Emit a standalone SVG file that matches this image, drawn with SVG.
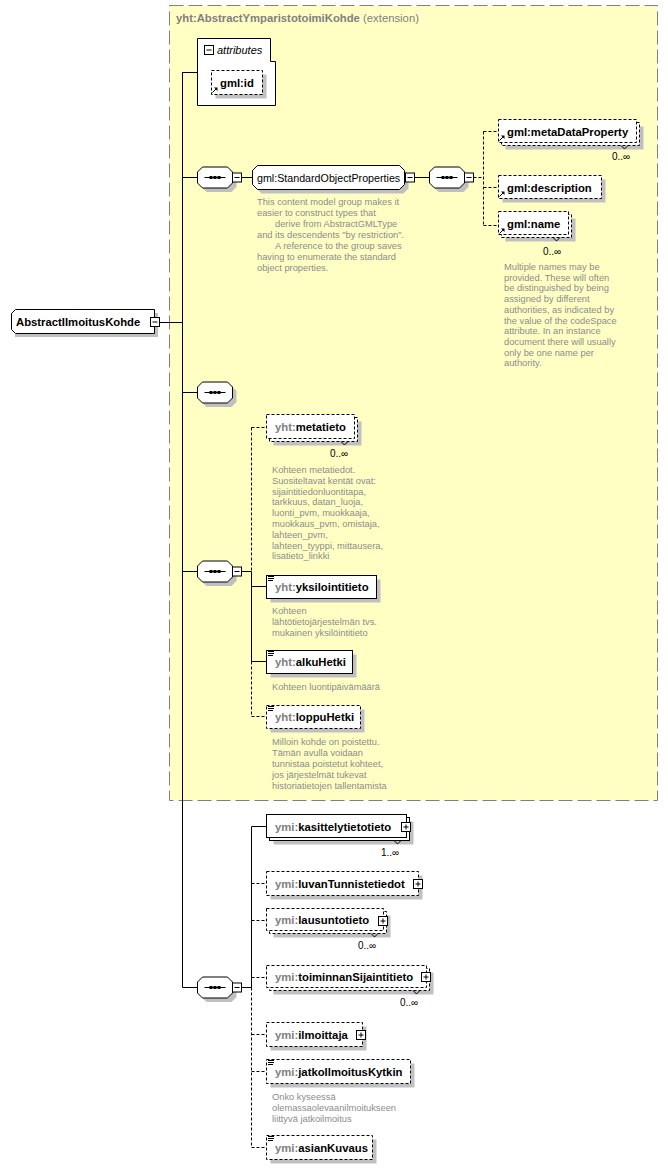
<svg xmlns="http://www.w3.org/2000/svg" xmlns:xlink="http://www.w3.org/1999/xlink" width="668" height="1169" viewBox="0 0 668 1169">
<style>
.bx{fill:#fff;stroke:#000;stroke-width:1}
.d{stroke-dasharray:3 2}
.sh{fill:#c0c0c0;stroke:none}
.nm{font-family:"Liberation Sans",Arial,sans-serif;font-weight:bold;font-size:11.3px;fill:#000}
.px{fill:#808080}
.ds{font-family:"Liberation Sans",Arial,sans-serif;font-size:9.3px;fill:#8c8c8c}
.oc{font-family:"Liberation Sans",Arial,sans-serif;font-size:10px;fill:#000}
.ln{stroke:#000;stroke-width:1;fill:none}
.ic{stroke:#000;stroke-width:1;fill:none}
</style>
<defs>
<g id="seq">
<polygon class="sh" points="9,-6.5 34,-6.5 39,-1.5 39,9.5 34,14.5 9,14.5 4,9.5 4,-1.5"/>
<polygon class="bx" points="5,-10.5 30,-10.5 35,-5.5 35,5.5 30,10.5 5,10.5 0,5.5 0,-5.5"/>
<line class="ln" x1="7" y1="0" x2="28" y2="0"/>
<rect x="12" y="-1.5" width="3" height="3" fill="#000"/>
<rect x="16" y="-1.5" width="3" height="3" fill="#000"/>
<rect x="20" y="-1.5" width="3" height="3" fill="#000"/>
</g>
<g id="minus"><rect class="bx" x="0" y="0" width="9" height="9"/><line class="ln" x1="2" y1="4.5" x2="7" y2="4.5"/></g>
<g id="plus"><rect class="bx" x="0" y="0" width="9" height="9"/><line class="ln" x1="2" y1="4.5" x2="7" y2="4.5"/><line class="ln" x1="4.5" y1="2" x2="4.5" y2="7"/></g>
<g id="doc"><line class="ic" x1="1" y1="1.5" x2="7" y2="1.5"/><line class="ic" x1="1" y1="3.5" x2="7" y2="3.5"/><line class="ic" x1="1" y1="5.5" x2="6" y2="5.5"/></g>
<g id="ref"><line class="ic" x1="0.5" y1="5.5" x2="4" y2="2"/><polygon points="2,0.5 5.5,0.5 5.5,4" fill="#000"/></g>
<g id="notch"><polyline class="ln" points="0,0 3.5,3.5 7,0" fill="#fff"/></g>
</defs>

<rect width="668" height="1169" fill="#fff"/>

<g id="extension">
<rect x="169.5" y="5.5" width="488" height="795" fill="#ffffc4" stroke="#808080" stroke-dasharray="14 5"/>
<text x="176" y="22" font-family="Liberation Sans, Arial, sans-serif" font-size="11.3px" fill="#808080"><tspan font-weight="bold">yht:AbstractYmparistotoimiKohde</tspan> (extension)</text>
</g>

<g id="connectors">
<line class="ln" x1="159.5" y1="322.5" x2="182.5" y2="322.5"/>
<line class="ln" x1="182.5" y1="72" x2="182.5" y2="987.5"/>
<line class="ln" x1="182.5" y1="72.5" x2="197.5" y2="72.5"/>
<line class="ln" x1="182.5" y1="177.5" x2="197.5" y2="177.5"/>
<line class="ln" x1="182.5" y1="392.5" x2="197.5" y2="392.5"/>
<line class="ln" x1="182.5" y1="571.5" x2="197.5" y2="571.5"/>
<line class="ln" x1="182.5" y1="987.5" x2="197.5" y2="987.5"/>
<line class="ln" x1="241.5" y1="177.5" x2="252.5" y2="177.5"/>
<line class="ln" x1="414.5" y1="177.5" x2="429.5" y2="177.5"/>
<line class="ln d" x1="473.5" y1="177.5" x2="483.5" y2="177.5"/>
<line class="ln d" x1="483.5" y1="131.5" x2="483.5" y2="225.5"/>
<line class="ln d" x1="483.5" y1="131.5" x2="498.5" y2="131.5"/>
<line class="ln d" x1="483.5" y1="187.5" x2="498.5" y2="187.5"/>
<line class="ln d" x1="483.5" y1="225.5" x2="498.5" y2="225.5"/>
<line class="ln" x1="241.5" y1="571.5" x2="251.5" y2="571.5"/>
<line class="ln d" x1="251.5" y1="427.5" x2="251.5" y2="571.5"/>
<line class="ln" x1="251.5" y1="571.5" x2="251.5" y2="661.5"/>
<line class="ln d" x1="251.5" y1="661.5" x2="251.5" y2="716.5"/>
<line class="ln d" x1="251.5" y1="427.5" x2="266.5" y2="427.5"/>
<line class="ln" x1="251.5" y1="586.5" x2="266.5" y2="586.5"/>
<line class="ln" x1="251.5" y1="661.5" x2="266.5" y2="661.5"/>
<line class="ln d" x1="251.5" y1="716.5" x2="266.5" y2="716.5"/>
<line class="ln" x1="241.5" y1="987.5" x2="251.5" y2="987.5"/>
<line class="ln" x1="251.5" y1="826.5" x2="251.5" y2="987.5"/>
<line class="ln d" x1="251.5" y1="987.5" x2="251.5" y2="1147.5"/>
<line class="ln" x1="251.5" y1="826.5" x2="266.5" y2="826.5"/>
<line class="ln d" x1="251.5" y1="883.5" x2="266.5" y2="883.5"/>
<line class="ln d" x1="251.5" y1="920.5" x2="266.5" y2="920.5"/>
<line class="ln d" x1="251.5" y1="977.5" x2="266.5" y2="977.5"/>
<line class="ln d" x1="251.5" y1="1034.5" x2="266.5" y2="1034.5"/>
<line class="ln d" x1="251.5" y1="1071.5" x2="266.5" y2="1071.5"/>
<line class="ln d" x1="251.5" y1="1147.5" x2="266.5" y2="1147.5"/>
</g>

<g id="root">
<polygon class="sh" points="19,313 158,313 158,337 15,337 15,317"/>
<polygon class="bx" points="15.5,309.5 154.5,309.5 154.5,333.5 15.5,333.5 11.5,329.5 11.5,313.5"/>
<text class="nm" x="16" y="326">AbstractIlmoitusKohde</text>
<use xlink:href="#minus" x="150.5" y="317.5"/>
</g>

<g id="attributes">
<path class="bx" d="M197.5,38.5 H270.5 V61.5 H275.5 V105.5 H197.5 Z"/>
<use xlink:href="#minus" x="204.5" y="45.5"/>
<text x="217" y="54" font-family="Liberation Sans, Arial, sans-serif" font-style="italic" font-size="11px" fill="#000">attributes</text>
</g>
<g id="gml-id">
<rect class="sh" x="215.5" y="74.5" width="51" height="24"/>
<rect class="bx d" x="211.5" y="70.5" width="51" height="24"/>
<text class="nm" x="220" y="87">gml:id</text>
<use xlink:href="#ref" x="212" y="87"/>
</g>

<g id="seq-1"><use xlink:href="#seq" x="197.5" y="177.5"/><use xlink:href="#minus" x="232.5" y="173"/></g>

<g id="standard-object-properties">
<polygon class="sh" points="261.5,169.5 403.5,169.5 408.5,174.5 408.5,188.5 403.5,193.5 261.5,193.5 256.5,188.5 256.5,174.5"/>
<polygon class="bx" points="257.5,165.5 399.5,165.5 404.5,170.5 404.5,184.5 399.5,189.5 257.5,189.5 252.5,184.5 252.5,170.5"/>
<text x="257" y="181.5" font-family="Liberation Sans, Arial, sans-serif" font-size="10.7px" fill="#000">gml:StandardObjectProperties</text>
<use xlink:href="#minus" x="405.5" y="173"/>
<text class="ds">
<tspan x="257" y="205">This content model group makes it</tspan>
<tspan x="257" y="216">easier to construct types that</tspan>
<tspan x="275" y="227">derive from AbstractGMLType</tspan>
<tspan x="257" y="238">and its descendents "by restriction".</tspan>
<tspan x="275" y="249">A reference to the group saves</tspan>
<tspan x="257" y="260">having to enumerate the standard</tspan>
<tspan x="257" y="271">object properties.</tspan>
</text>
</g>

<g id="seq-2"><use xlink:href="#seq" x="429.5" y="177.5"/><use xlink:href="#minus" x="464.5" y="173"/></g>

<g id="gml-metaDataProperty">
<rect class="sh" x="505.5" y="126.5" width="138" height="23"/>
<rect class="bx d" x="501.5" y="122.5" width="138" height="23"/>
<rect class="bx d" x="498.5" y="119.5" width="138" height="23"/>
<text class="nm" x="507" y="135.5">gml:metaDataProperty</text>
<use xlink:href="#ref" x="499" y="135"/>
<use xlink:href="#notch" x="621" y="145.5"/>
<text class="oc" x="612" y="160">0..∞</text>
</g>
<g id="gml-description">
<rect class="sh" x="502.5" y="179.5" width="103" height="23"/>
<rect class="bx d" x="498.5" y="175.5" width="103" height="23"/>
<text class="nm" x="507" y="191.5">gml:description</text>
<use xlink:href="#ref" x="499" y="191"/>
</g>
<g id="gml-name">
<rect class="sh" x="505.5" y="218.5" width="70" height="23"/>
<rect class="bx d" x="501.5" y="214.5" width="70" height="23"/>
<rect class="bx d" x="498.5" y="211.5" width="70" height="23"/>
<text class="nm" x="507" y="228">gml:name</text>
<use xlink:href="#ref" x="499" y="228"/>
<use xlink:href="#notch" x="553" y="237.5"/>
<text class="oc" x="543" y="255">0..∞</text>
<text class="ds">
<tspan x="504" y="270">Multiple names may be</tspan>
<tspan x="504" y="280.7">provided.  These will often</tspan>
<tspan x="504" y="291.4">be distinguished by being</tspan>
<tspan x="504" y="302.1">assigned by different</tspan>
<tspan x="504" y="312.8">authorities, as indicated by</tspan>
<tspan x="504" y="323.5">the value of the codeSpace</tspan>
<tspan x="504" y="334.2">attribute.  In an instance</tspan>
<tspan x="504" y="344.9">document there will usually</tspan>
<tspan x="504" y="355.6">only be one name per</tspan>
<tspan x="504" y="366.3">authority.</tspan>
</text>
</g>

<g id="seq-empty"><use xlink:href="#seq" x="197.5" y="392.5"/></g>

<g id="seq-3"><use xlink:href="#seq" x="197.5" y="571.5"/><use xlink:href="#minus" x="232.5" y="567"/></g>

<g id="yht-metatieto">
<rect class="sh" x="273.5" y="421.5" width="88" height="24"/>
<rect class="bx d" x="269.5" y="417.5" width="88" height="24"/>
<rect class="bx d" x="266.5" y="414.5" width="88" height="24"/>
<text class="nm" x="275" y="431"><tspan class="px">yht:</tspan>metatieto</text>
<use xlink:href="#notch" x="341" y="441.5"/>
<text class="oc" x="330" y="457">0..∞</text>
<text class="ds">
<tspan x="272" y="473">Kohteen metatiedot.</tspan>
<tspan x="272" y="483.8">Suositeltavat kentät ovat:</tspan>
<tspan x="272" y="494.6">sijaintitiedonluontitapa,</tspan>
<tspan x="272" y="505.4">tarkkuus, datan_luoja,</tspan>
<tspan x="272" y="516.2">luonti_pvm, muokkaaja,</tspan>
<tspan x="272" y="527">muokkaus_pvm, omistaja,</tspan>
<tspan x="272" y="537.8">lahteen_pvm,</tspan>
<tspan x="272" y="548.6">lahteen_tyyppi, mittausera,</tspan>
<tspan x="272" y="559.4">lisatieto_linkki</tspan>
</text>
</g>

<g id="yht-yksilointitieto">
<rect class="sh" x="270.5" y="579.5" width="110" height="23"/>
<rect class="bx" x="266.5" y="575.5" width="110" height="23"/>
<use xlink:href="#doc" x="267" y="575"/>
<text class="nm" x="275" y="591"><tspan class="px">yht:</tspan>yksilointitieto</text>
<text class="ds">
<tspan x="272" y="614">Kohteen</tspan>
<tspan x="272" y="625">lähtötietojärjestelmän  tvs.</tspan>
<tspan x="272" y="636">mukainen yksilöintitieto</tspan>
</text>
</g>

<g id="yht-alkuHetki">
<rect class="sh" x="270.5" y="654.5" width="86" height="23"/>
<rect class="bx" x="266.5" y="650.5" width="86" height="23"/>
<use xlink:href="#doc" x="267" y="650"/>
<text class="nm" x="275" y="666"><tspan class="px">yht:</tspan>alkuHetki</text>
<text class="ds" x="272" y="690">Kohteen luontipäivämäärä</text>
</g>

<g id="yht-loppuHetki">
<rect class="sh" x="270.5" y="709.5" width="94" height="23"/>
<rect class="bx d" x="266.5" y="705.5" width="94" height="23"/>
<use xlink:href="#doc" x="267" y="705"/>
<text class="nm" x="275" y="721"><tspan class="px">yht:</tspan>loppuHetki</text>
<text class="ds">
<tspan x="272" y="745">Milloin kohde on poistettu.</tspan>
<tspan x="272" y="756">Tämän avulla voidaan</tspan>
<tspan x="272" y="767">tunnistaa poistetut kohteet,</tspan>
<tspan x="272" y="778">jos järjestelmät tukevat</tspan>
<tspan x="272" y="789">historiatietojen tallentamista</tspan>
</text>
</g>

<g id="seq-4"><use xlink:href="#seq" x="197.5" y="987.5"/><use xlink:href="#minus" x="232.5" y="983"/></g>

<g id="ymi-kasittelytietotieto">
<rect class="sh" x="273.5" y="821.5" width="140" height="23"/>
<rect class="bx" x="269.5" y="817.5" width="140" height="23"/>
<rect class="bx" x="266.5" y="814.5" width="140" height="23"/>
<text class="nm" x="275" y="831"><tspan class="px">ymi:</tspan>kasittelytietotieto</text>
<use xlink:href="#plus" x="401.5" y="822.5"/>
<use xlink:href="#notch" x="394" y="840.5"/>
<text class="oc" x="381" y="856">1..∞</text>
</g>

<g id="ymi-luvanTunnistetiedot">
<rect class="sh" x="270.5" y="875.5" width="152" height="24"/>
<rect class="bx d" x="266.5" y="871.5" width="152" height="24"/>
<text class="nm" x="275" y="888"><tspan class="px">ymi:</tspan>luvanTunnistetiedot</text>
<use xlink:href="#plus" x="413.5" y="879.5"/>
</g>

<g id="ymi-lausuntotieto">
<rect class="sh" x="273.5" y="915.5" width="117" height="22"/>
<rect class="bx d" x="269.5" y="911.5" width="117" height="22"/>
<rect class="bx d" x="266.5" y="908.5" width="117" height="22"/>
<text class="nm" x="275" y="924"><tspan class="px">ymi:</tspan>lausuntotieto</text>
<use xlink:href="#plus" x="378.5" y="916.5"/>
<use xlink:href="#notch" x="371" y="933.5"/>
<text class="oc" x="358" y="949">0..∞</text>
</g>

<g id="ymi-toiminnanSijaintitieto">
<rect class="sh" x="273.5" y="972.5" width="160" height="22"/>
<rect class="bx d" x="269.5" y="968.5" width="160" height="22"/>
<rect class="bx d" x="266.5" y="965.5" width="160" height="22"/>
<text class="nm" x="275" y="981"><tspan class="px">ymi:</tspan>toiminnanSijaintitieto</text>
<use xlink:href="#plus" x="421.5" y="972.5"/>
<use xlink:href="#notch" x="413" y="990.5"/>
<text class="oc" x="400" y="1006">0..∞</text>
</g>

<g id="ymi-ilmoittaja">
<rect class="sh" x="270.5" y="1026.5" width="96" height="24"/>
<rect class="bx d" x="266.5" y="1022.5" width="96" height="24"/>
<text class="nm" x="275" y="1039"><tspan class="px">ymi:</tspan>ilmoittaja</text>
<use xlink:href="#plus" x="356.5" y="1030.5"/>
</g>

<g id="ymi-jatkoIlmoitusKytkin">
<rect class="sh" x="270.5" y="1063.5" width="144" height="24"/>
<rect class="bx d" x="266.5" y="1059.5" width="144" height="24"/>
<use xlink:href="#doc" x="267" y="1059"/>
<text class="nm" x="275" y="1076"><tspan class="px">ymi:</tspan>jatkoIlmoitusKytkin</text>
<text class="ds">
<tspan x="272" y="1099.5">Onko kyseessä</tspan>
<tspan x="272" y="1110.5">olemassaolevaanilmoitukseen</tspan>
<tspan x="272" y="1121.5">liittyvä jatkoilmoitus</tspan>
</text>
</g>

<g id="ymi-asianKuvaus">
<rect class="sh" x="270.5" y="1139.5" width="106" height="24"/>
<rect class="bx d" x="266.5" y="1135.5" width="106" height="24"/>
<use xlink:href="#doc" x="267" y="1135"/>
<text class="nm" x="275" y="1152"><tspan class="px">ymi:</tspan>asianKuvaus</text>
</g>
</svg>
